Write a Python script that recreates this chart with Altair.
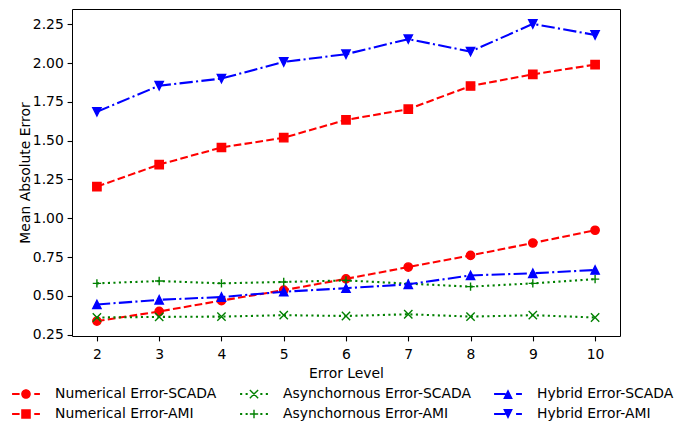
import altair as alt
import pandas as pd

# ---------------- data ----------------
levels = [2, 3, 4, 5, 6, 7, 8, 9, 10]
numerical_scada = [0.338, 0.400, 0.470, 0.537, 0.610, 0.686, 0.761, 0.841, 0.923]
numerical_ami = [1.204, 1.346, 1.456, 1.519, 1.634, 1.703, 1.852, 1.927, 1.990]
async_scada = [0.361, 0.365, 0.367, 0.376, 0.371, 0.382, 0.367, 0.376, 0.361]
async_ami = [0.581, 0.596, 0.581, 0.590, 0.600, 0.579, 0.560, 0.581, 0.608]
hybrid_scada = [0.445, 0.475, 0.493, 0.527, 0.550, 0.575, 0.632, 0.646, 0.667]
hybrid_ami = [1.686, 1.854, 1.900, 2.007, 2.057, 2.154, 2.074, 2.252, 2.181]

series_names = ["Numerical Error-SCADA", "Numerical Error-AMI",
                "Asynchornous Error-SCADA", "Asynchornous Error-AMI",
                "Hybrid Error-SCADA", "Hybrid Error-AMI"]
series_values = [numerical_scada, numerical_ami, async_scada, async_ami,
                 hybrid_scada, hybrid_ami]

y_ticks = [0.25, 0.50, 0.75, 1.00, 1.25, 1.50, 1.75, 2.00, 2.25]
x_ticks = levels

# ---------------- styles ----------------
FONT = "DejaVu Sans"
FS = 13.9
colors = ["#ff0000", "#ff0000", "#008000", "#008000", "#0000ff", "#0000ff"]
dashes = [[7.7, 3.3], [7.7, 3.3], [2.1, 3.4], [2.1, 3.4],
          [13.3, 3.3, 2.1, 3.3], [13.3, 3.3, 2.1, 3.3]]
# plot markers (unit paths)
M_CIRCLE = "M1,0A1,1,0,1,1,-1,0A1,1,0,1,1,1,0Z"
M_SQUARE = "M-1,-1H1V1H-1Z"
M_UP = "M0,-1L1,1L-1,1Z"
M_DOWN = "M0,1L-1,-1L1,-1Z"
M_X = "M-1,-1L1,1M-1,1L1,-1"
M_PLUS = "M-1,0H1M0,-1V1"
markers = [M_CIRCLE, M_SQUARE, M_X, M_PLUS, M_UP, M_DOWN]
filled = [True, True, False, False, True, True]

# legend handles (line pieces + marker), drawn as filled shapes
L_RED_DASH = "M-1.74,-0.13H-0.8V0.13H-1.74Z M1.03,-0.13H1.74V0.13H1.03Z "
L_GREEN_DOT = ("M-1.74,-0.13H-1.475V0.13H-1.74Z M-1.05,-0.13H-0.79V0.13H-1.05Z "
               "M0.79,-0.13H1.05V0.13H0.79Z M1.475,-0.13H1.74V0.13H1.475Z ")
L_BLUE_DD = "M-1.74,-0.13H-0.3V0.13H-1.74Z M1.01,-0.13H1.74V0.13H1.01Z "
LG_CIRCLE = "M0.6,0A0.6,0.6,0,1,1,-0.6,0A0.6,0.6,0,1,1,0.6,0Z"
LG_SQUARE = "M-0.6,-0.6H0.6V0.6H-0.6Z"
LG_UP = "M0,-0.61L0.61,0.61L-0.61,0.61Z"
LG_DOWN = "M0,0.61L-0.61,-0.61L0.61,-0.61Z"
LG_X = ("M-0.4585,-0.5815L0.5815,0.4585L0.4585,0.5815L-0.5815,-0.4585Z "
        "M-0.5815,0.4585L0.4585,-0.5815L0.5815,-0.4585L-0.4585,0.5815Z")
LG_PLUS = "M-0.52,-0.087H0.52V0.087H-0.52Z M-0.087,-0.52H0.087V0.52H-0.087Z"
legend_paths_by_series = [L_RED_DASH + LG_CIRCLE, L_RED_DASH + LG_SQUARE,
                          L_GREEN_DOT + LG_X, L_GREEN_DOT + LG_PLUS,
                          L_BLUE_DD + LG_UP, L_BLUE_DD + LG_DOWN]
# legend is laid out row-major in 3 columns
legend_order_idx = [0, 2, 4, 1, 3, 5]
legend_order = [series_names[i] for i in legend_order_idx]
legend_colors = [colors[i] for i in legend_order_idx]
legend_paths = [legend_paths_by_series[i] for i in legend_order_idx]

# ---------------- table ----------------
rows = []
for name, vals in zip(series_names, series_values):
    for lv, v in zip(levels, vals):
        rows.append({"series": name, "level": lv, "mae": v})
df = pd.DataFrame(rows)

W, H = 548, 327

x_enc = alt.X("level:Q",
              scale=alt.Scale(domain=[1.6, 10.4], nice=False, zero=False),
              axis=alt.Axis(values=x_ticks, format="d", title="Error Level",
                            labelPadding=6.4, titleX=W / 2, titleY=41,
                            titleBaseline="alphabetic", titleAlign="center"))
y_enc = alt.Y("mae:Q",
              scale=alt.Scale(domain=[0.242, 2.348], nice=False, zero=False),
              axis=alt.Axis(values=y_ticks, format=".2f", title="Mean Absolute Error",
                            labelPadding=3.8, titlePadding=0))

layers = []
for i, name in enumerate(series_names):
    base = alt.Chart(df).transform_filter(alt.datum.series == name)
    layers.append(base.mark_line(color=colors[i], strokeWidth=2.08,
                                 strokeDash=dashes[i], strokeCap="butt")
                  .encode(x=x_enc, y=y_enc))
    if filled[i]:
        mk = base.mark_point(shape=markers[i], size=69.4, filled=True,
                             fill=colors[i], stroke=colors[i], strokeWidth=1.39,
                             opacity=1)
    else:
        mk = base.mark_point(shape=markers[i], size=69.4, filled=False,
                             color=colors[i], stroke=colors[i], strokeWidth=1.39,
                             opacity=1)
    layers.append(mk.encode(x=x_enc, y=y_enc))

leg = alt.Legend(title=None, orient="none", legendX=-54, legendY=377,
                 direction="horizontal", columns=3, symbolSize=256,
                 symbolStrokeWidth=0, symbolOpacity=1, labelFont=FONT,
                 labelFontSize=FS, labelColor="black", labelOffset=21,
                 labelLimit=400, columnPadding=23, rowPadding=5, padding=0)

legend_layer = (alt.Chart(df).transform_filter("false")
                .mark_point(filled=True, opacity=1)
                .encode(x=x_enc, y=y_enc,
                        color=alt.Color("series:N",
                                        scale=alt.Scale(domain=legend_order, range=legend_colors),
                                        legend=leg),
                        shape=alt.Shape("series:N",
                                        scale=alt.Scale(domain=legend_order, range=legend_paths),
                                        legend=leg)))
layers.append(legend_layer)

chart = (alt.layer(*layers)
         .properties(width=W, height=H,
                     autosize=alt.AutoSizeParams(type="none"),
                     padding={"left": 64, "top": 1, "right": 62, "bottom": 87})
         .configure_view(stroke="black", strokeWidth=1)
         .configure_axis(grid=False, domain=False, tickSize=4.9, tickWidth=1.1,
                         tickColor="black", labelFont=FONT, labelFontSize=FS,
                         labelColor="black", titleFont=FONT, titleFontSize=FS,
                         titleFontWeight="normal", titleColor="black"))

chart.save("out.html", embed_options={"renderer": "svg", "actions": False})
